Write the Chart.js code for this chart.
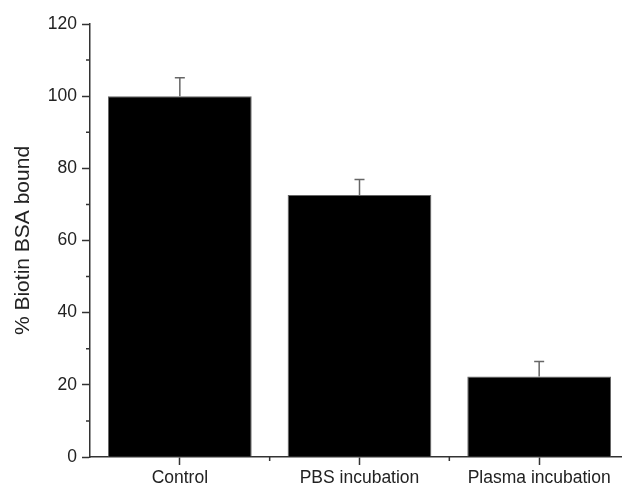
<!DOCTYPE html>
<html>
<head>
<meta charset="utf-8">
<script src="https://cdn.jsdelivr.net/npm/chart.js@4.4.1/dist/chart.umd.min.js"></script>
<style>
  html, body { margin: 0; padding: 0; background: #fff; overflow: hidden; }
  #wrap { width: 630px; height: 490px; }
</style>
</head>
<body>
<div id="wrap"><canvas id="chart"></canvas></div>
<script>
const categories = ["Control", "PBS incubation", "Plasma incubation"];
const boundValues = [100, 72.6, 22.3];
const errorValues = [5.1, 4.3, 4.2];
const yMinorTicks = [10, 30, 50, 70, 90, 110];
const xMinorTicks = [0.5, 1.5];

const axisColor = "#333";

// upward-only error bars with a small cap
const errorBars = {
  id: "errorBars",
  afterDatasetsDraw(chart) {
    const ctx = chart.ctx;
    const y = chart.scales.y;
    const meta = chart.getDatasetMeta(0);
    ctx.save();
    ctx.strokeStyle = "#666";
    ctx.lineWidth = 1.5;
    meta.data.forEach((bar, i) => {
      const top = y.getPixelForValue(boundValues[i] + errorValues[i]);
      ctx.beginPath();
      ctx.moveTo(bar.x, bar.y);
      ctx.lineTo(bar.x, top);
      ctx.moveTo(bar.x - 5, top);
      ctx.lineTo(bar.x + 5, top);
      ctx.stroke();
    });
    ctx.restore();
  }
};

// short minor ticks on both axes
const minorTicks = {
  id: "minorTicks",
  afterDraw(chart) {
    const ctx = chart.ctx;
    const x = chart.scales.x, y = chart.scales.y;
    const area = chart.chartArea;
    ctx.save();
    ctx.strokeStyle = axisColor;
    ctx.lineWidth = 1.5;
    ctx.beginPath();
    yMinorTicks.forEach(v => {
      const py = y.getPixelForValue(v);
      ctx.moveTo(area.left - 4, py);
      ctx.lineTo(area.left, py);
    });
    xMinorTicks.forEach(v => {
      const px = x.getPixelForValue(v);
      ctx.moveTo(px, area.bottom);
      ctx.lineTo(px, area.bottom + 4);
    });
    ctx.stroke();
    ctx.restore();
  }
};

new Chart(document.getElementById("chart"), {
  type: "bar",
  data: {
    labels: categories,
    datasets: [{
      data: boundValues,
      backgroundColor: "#000",
      borderColor: "#666",
      borderWidth: 1,
      categoryPercentage: 1,
      barPercentage: 0.8
    }]
  },
  options: {
    responsive: true,
    maintainAspectRatio: false,
    animation: false,
    layout: { padding: { top: 24, left: 11, right: 1, bottom: 0 } },
    plugins: {
      legend: { display: false },
      tooltip: { enabled: false }
    },
    scales: {
      x: {
        offset: true,
        grid: { offset: false, drawOnChartArea: false, tickLength: 8, tickColor: axisColor, tickWidth: 1.5 },
        border: { color: axisColor, width: 1.5 },
        ticks: { color: "#222", padding: 3, maxRotation: 0, font: { family: "Liberation Sans, Arial, sans-serif", size: 17.5 } },
        afterFit(scale) { scale.height = 33; }
      },
      y: {
        min: 0,
        max: 120,
        ticks: { stepSize: 20, color: "#222", padding: 5, font: { family: "Liberation Sans, Arial, sans-serif", size: 17.5 } },
        grid: { drawOnChartArea: false, tickLength: 8, tickColor: axisColor, tickWidth: 1.5 },
        border: { color: axisColor, width: 1.5 },
        title: {
          display: true,
          text: "% Biotin BSA bound",
          color: "#222",
          padding: { top: 0, bottom: 0 },
          font: { family: "Liberation Sans, Arial, sans-serif", size: 21 }
        },
        afterFit(scale) { scale.width = 79; }
      }
    }
  },
  plugins: [errorBars, minorTicks]
});
</script>
</body>
</html>
